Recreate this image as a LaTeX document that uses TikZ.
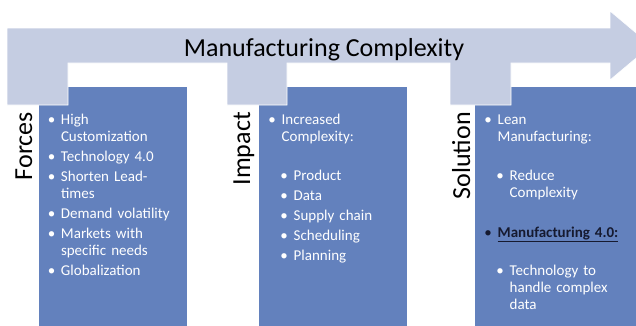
\documentclass[tikz,border=0pt]{standalone}
\usepackage{fontspec}
\setmainfont{Carlito}
\usetikzlibrary{positioning}
\definecolor{bandblue}{RGB}{197,205,226}
\definecolor{boxblue}{RGB}{99,129,189}
\definecolor{darktext}{RGB}{22,26,48}
\newcommand{\bul}[2][0pt]{\par\leftskip=#1\relax\hangindent=12.5pt\hangafter=1\noindent\strut\makebox[12.5pt][l]{\hspace*{3pt}\makebox[0pt]{\textbullet}}#2\strut\par}
\newcommand{\blankgap}[1][19pt]{\vspace{#1}}

\begin{document}
\begin{tikzpicture}[x=1pt,y=-1pt]
\tikzstyle{sidelabel}=[rotate=90,anchor=base east,inner sep=0pt,font=\fontsize{26}{30}\selectfont]
\tikzstyle{itemlist}=[anchor=north west,inner sep=0pt,align=left,text=white,
  font=\fontsize{15}{17}\selectfont,execute at begin node={\setlength{\parskip}{3pt}}]
\useasboundingbox (0,0) rectangle (636,325);
\clip (0,0) rectangle (636,325);
% blue boxes
\fill[boxblue,draw=white,line width=0.6pt] (38,86) rectangle (187,330);
\fill[boxblue,draw=white,line width=0.6pt] (258,86) rectangle (407,330);
\fill[boxblue,draw=white,line width=0.6pt] (474,86) rectangle (640,330);
% arrow band with tabs
\fill[bandblue,draw=white,line width=0.6pt] (7,28) -- (610,28) -- (610,11) -- (651,45.5) -- (610,80) -- (610,63)
  -- (511,63) -- (511,105) -- (450,105) -- (450,63) -- (287,63) -- (287,105) -- (227,105)
  -- (227,63) -- (68,63) -- (68,105) -- (7,105) -- cycle;
\node[anchor=base,inner sep=0pt,font=\fontsize{26}{30}\selectfont] (title) at (324,56.7) {Manufacturing Complexity};
% side labels
\node[sidelabel] (forces) at (32,112) {Forces};
\node[sidelabel] (impact) at (250,112) {Impact};
\node[sidelabel] (solution) at (470,112) {Solution};
% lists
\node[itemlist,text width=138pt] (forceslist) at (48.3,104.3) {%
\bul{High\newline Customization}
\bul{Technology 4.0}
\bul{Shorten Lead-\newline times}
\bul{Demand volatility}
\bul{Markets with\newline specific needs}
\bul{Globalization}};
\node[itemlist,text width=136pt] (impactlist) at (269,104.3) {%
\bul{Increased\newline Complexity:}
\blankgap
\bul[12pt]{Product}
\bul[12pt]{Data}
\bul[12pt]{Supply chain}
\bul[12pt]{Scheduling}
\bul[12pt]{Planning}};
\node[itemlist,text width=148pt] (solutionlist) at (485,104.3) {%
\bul{Lean\newline Manufacturing:}
\blankgap
\bul[12pt]{Reduce\newline Complexity}
\blankgap[20pt]
{\color{darktext}\bul{\textbf{\underline{Manufacturing 4.0:}}}}
\blankgap[18pt]
\bul[12pt]{Technology to\newline handle complex\newline data}};
\end{tikzpicture}
\end{document}
